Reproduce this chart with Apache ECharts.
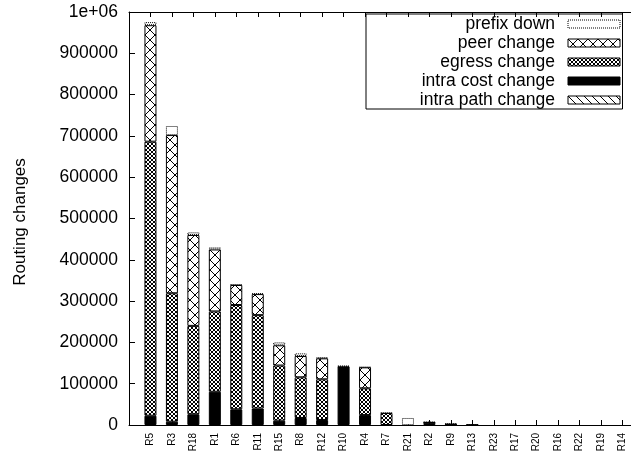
<!DOCTYPE html>
<html>
<head>
<meta charset="utf-8">
<script src="https://cdn.jsdelivr.net/npm/echarts@6/dist/echarts.min.js"></script>
<style>
  html, body { margin: 0; padding: 0; background: #fff; }
  #chart { width: 631px; height: 459px; }
</style>
</head>
<body>
<div id="chart"></div>
<script>
// Routers, sorted by total number of routing changes
const routers = ['R5', 'R3', 'R18', 'R1', 'R6', 'R11', 'R15', 'R8', 'R12', 'R10', 'R4', 'R7',
                 'R21', 'R2', 'R9', 'R13', 'R23', 'R17', 'R20', 'R16', 'R22', 'R19', 'R14'];

// Stacked components (bottom to top)
const intraPath  = [0, 0, 0, 0, 0, 0, 0, 0, 0, 0, 0, 0, 0, 0, 0, 0, 0, 0, 0, 0, 0, 0, 0];
const intraCost  = [22500, 8000, 26000, 80500, 38000, 40000, 10500, 17000, 12000, 142000, 24000, 0,
                    0, 5500, 1500, 500, 0, 0, 0, 0, 0, 0, 0];
const egress     = [663500, 311000, 214000, 194500, 252500, 226000, 133500, 98500, 98600, 0, 64800, 29000,
                    0, 1000, 500, 0, 0, 0, 0, 0, 0, 0, 0];
const peer       = [282000, 383000, 220000, 150000, 48500, 51000, 49000, 51500, 50800, 0, 50800, 0,
                    0, 0, 0, 0, 0, 0, 0, 0, 0, 0, 0];
const prefixDown = [7500, 22000, 6500, 5000, 1000, 1500, 7000, 6500, 2000, 1000, 500, 500,
                    17000, 1000, 1000, 500, 0, 0, 0, 0, 0, 0, 0];

const yMax = 1000000;
const yStep = 100000;

const FONT = 'Liberation Sans';

// Tile-based fill patterns
function tile(size, draw) {
  const c = document.createElement('canvas');
  c.width = size; c.height = size;
  const g = c.getContext('2d');
  g.fillStyle = '#fff';
  g.fillRect(0, 0, size, size);
  g.strokeStyle = '#000';
  g.lineWidth = 1;
  g.beginPath();
  draw(g, size);
  g.stroke();
  return { image: c, repeat: 'repeat' };
}
const cross = (g, s) => { g.moveTo(-1, -1); g.lineTo(s + 1, s + 1); g.moveTo(-1, s + 1); g.lineTo(s + 1, -1); };
const bigCross = tile(10, cross);
const fineCross = tile(4, cross);
const backDiag = tile(8, (g, s) => {
  g.moveTo(-1, -1); g.lineTo(s + 1, s + 1);
  g.moveTo(-1, s - 1); g.lineTo(1, s + 1);
  g.moveTo(s - 1, -1); g.lineTo(s + 1, 1);
});

// Padded category list: one empty slot at each end of the axis
const xCats = [''].concat(routers, ['']);
const pad = arr => ['-'].concat(arr.map(v => (v > 0 ? v : '-')), ['-']);

function barSeries(name, values, itemStyle) {
  return {
    name: name,
    type: 'bar',
    stack: 'total',
    barWidth: 12,
    data: pad(values),
    itemStyle: Object.assign({ borderColor: '#000', borderWidth: 1 }, itemStyle),
    emphasis: { disabled: true },
    silent: true
  };
}

const chart = echarts.init(document.getElementById('chart'), null, { renderer: 'canvas' });

const xAxisBase = {
  type: 'category',
  data: xCats,
  boundaryGap: false,
  axisLine: { show: true, lineStyle: { color: '#000', width: 1 } },
  axisTick: { show: true, inside: true, length: 5, interval: 0, lineStyle: { color: '#000' } },
  splitLine: { show: false }
};

chart.setOption({
  animation: false,
  backgroundColor: '#fff',
  grid: { left: 129, right: -13, top: 12, bottom: 34, containLabel: false, outerBoundsMode: 'none' },
  xAxis: [
    Object.assign({}, xAxisBase, {
      position: 'bottom',
      axisLabel: { show: true, interval: 0, rotate: 90, margin: 8, color: '#000', fontSize: 10, fontFamily: FONT }
    }),
    Object.assign({}, xAxisBase, {
      position: 'top',
      axisLabel: { show: false }
    })
  ],
  yAxis: {
    type: 'value',
    min: 0,
    max: yMax,
    interval: yStep,
    axisLine: { show: true, lineStyle: { color: '#000', width: 1 } },
    axisTick: { show: true, inside: true, length: 6, lineStyle: { color: '#000' } },
    splitLine: { show: false },
    axisLabel: {
      color: '#000', fontSize: 17.5, fontFamily: FONT, margin: 11,
      formatter: v => (v === 1000000 ? '1e+06' : String(v))
    }
  },
  graphic: [{
    type: 'text',
    x: 20,
    y: 222,
    rotation: Math.PI / 2,
    silent: true,
    style: {
      text: 'Routing changes',
      fill: '#000',
      font: '17px "Liberation Sans"',
      align: 'center',
      verticalAlign: 'middle'
    }
  }],
  legend: {
    orient: 'vertical',
    left: 366,
    top: 14,
    padding: [1, 2, 0, 4],
    borderColor: '#000',
    borderWidth: 1,
    itemWidth: 52,
    itemHeight: 8,
    itemGap: 1,
    align: 'right',
    icon: 'rect',
    selectedMode: false,
    formatter: name => '{t|' + name + '}',
    textStyle: {
      rich: {
        t: { width: 185, align: 'right', padding: [0, 8, 0, 0], fontSize: 17.5, lineHeight: 18, fontFamily: FONT, color: '#000' }
      }
    },
    data: [
      { name: 'prefix down', itemStyle: { color: '#fff', borderColor: '#000', borderWidth: 1, borderType: 'dotted' } },
      { name: 'peer change', itemStyle: { color: bigCross, borderColor: '#000', borderWidth: 1 } },
      { name: 'egress change', itemStyle: { color: fineCross, borderColor: '#000', borderWidth: 1 } },
      { name: 'intra cost change', itemStyle: { color: '#000', borderColor: '#000', borderWidth: 1 } },
      { name: 'intra path change', itemStyle: { color: backDiag, borderColor: '#000', borderWidth: 1 } }
    ]
  },
  series: [
    barSeries('intra path change', intraPath, { color: backDiag }),
    barSeries('intra cost change', intraCost, { color: '#000' }),
    barSeries('egress change', egress, { color: fineCross }),
    barSeries('peer change', peer, { color: bigCross }),
    barSeries('prefix down', prefixDown, { color: '#fff', borderType: 'dotted' })
  ]
});
</script>
</body>
</html>
